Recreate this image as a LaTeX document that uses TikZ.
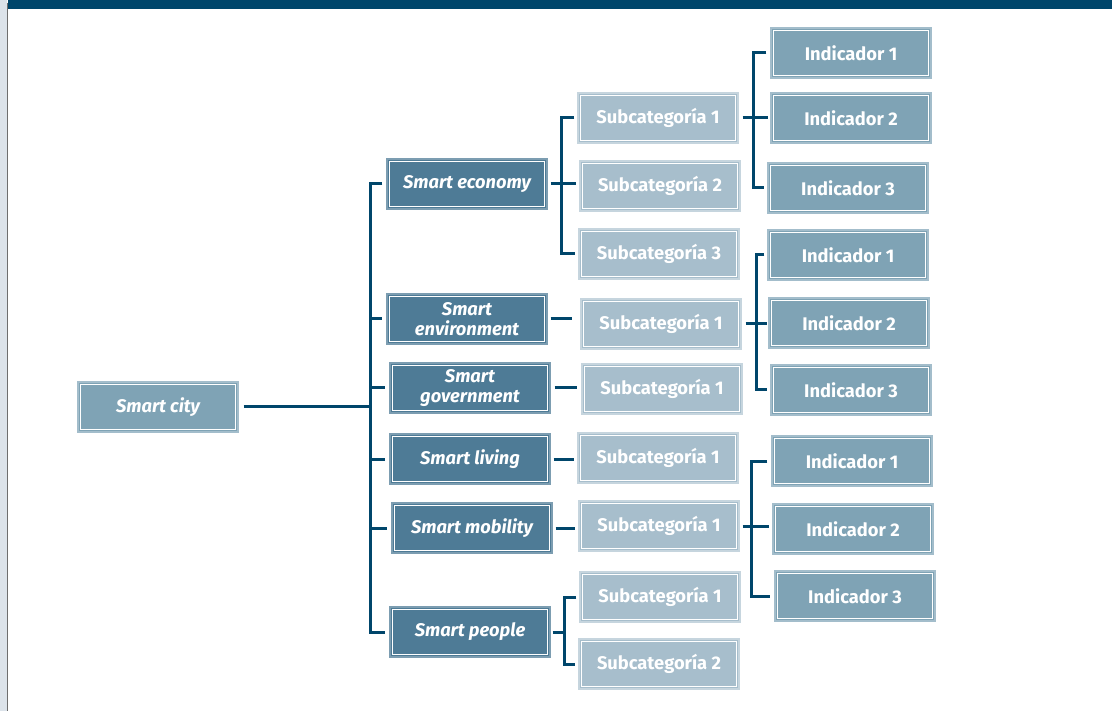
\documentclass[tikz,border=0pt]{standalone}
\usepackage{fontspec}
\setmainfont{Fira Sans}
\definecolor{navy}{HTML}{00466B}
\definecolor{midfill}{HTML}{7FA3B5}
\definecolor{midedge}{HTML}{A3BDCB}
\definecolor{darkfill}{HTML}{4E7B96}
\definecolor{darkedge}{HTML}{7C9DB1}
\definecolor{lightfill}{HTML}{A7BECC}
\definecolor{lightedge}{HTML}{C6D5DE}
\definecolor{stripc}{HTML}{DCE3EA}
\definecolor{greyline}{HTML}{6E6E6E}
\tikzset{
  box/.style={rectangle, minimum width=160pt, minimum height=50pt, inner sep=0pt,
    line width=1.2pt, text=white, font=\fontsize{18.3}{19.5}\selectfont\bfseries, align=center,
    path picture={\draw[white, line width=1pt]
      ([shift={(2.6pt,2.6pt)}]path picture bounding box.south west) rectangle
      ([shift={(-2.6pt,-2.6pt)}]path picture bounding box.north east);}},
  lvl0/.style={box, fill=midfill, draw=midedge, font=\fontsize{18.3}{19.5}\selectfont\bfseries\itshape},
  lvl1/.style={box, fill=darkfill, draw=darkedge, font=\fontsize{18.3}{19.5}\selectfont\bfseries\itshape},
  lvl2/.style={box, fill=lightfill, draw=lightedge},
  lvl3/.style={box, fill=midfill, draw=midedge},
  conn/.style={navy, line width=3pt, line join=miter},
}
\begin{document}
\begin{tikzpicture}[x=1pt, y=-1pt]
\useasboundingbox (0,0) rectangle (1112,711);
\fill[stripc] (0,0) rectangle (7,711);
\draw[greyline, line width=1.6pt] (7.6,3) -- (7.6,711);
\fill[navy] (8,0) rectangle (1112,9);

% level 0
\node[lvl0] (city) at (158,407) {Smart city};
% level 1
\node[lvl1] (econ) at (467,184) {Smart economy};
\node[lvl1] (env) at (467,319) {Smart\\environment};
\node[lvl1] (gov) at (470,388) {Smart\\government};
\node[lvl1] (liv) at (470,459) {Smart living};
\node[lvl1] (mob) at (472,528) {Smart mobility};
\node[lvl1] (peo) at (470,632) {Smart people};
% level 2
\node[lvl2] (es1) at (658,118) {Subcategoría 1};
\node[lvl2] (es2) at (660,186) {Subcategoría 2};
\node[lvl2] (es3) at (659,254) {Subcategoría 3};
\node[lvl2] (vs1) at (661,324) {Subcategoría 1};
\node[lvl2] (gs1) at (662,389) {Subcategoría 1};
\node[lvl2] (ls1) at (658,458) {Subcategoría 1};
\node[lvl2] (ms1) at (659,526) {Subcategoría 1};
\node[lvl2] (ps1) at (660,597) {Subcategoría 1};
\node[lvl2] (ps2) at (659,664) {Subcategoría 2};
% level 3
\node[lvl3] (ei1) at (851,53) {Indicador 1};
\node[lvl3] (ei2) at (851,118) {Indicador 2};
\node[lvl3] (ei3) at (848,188) {Indicador 3};
\node[lvl3] (vi1) at (848,255) {Indicador 1};
\node[lvl3] (vi2) at (849,323) {Indicador 2};
\node[lvl3] (vi3) at (851,390) {Indicador 3};
\node[lvl3] (mi1) at (852,461) {Indicador 1};
\node[lvl3] (mi2) at (853,529) {Indicador 2};
\node[lvl3] (mi3) at (855,596) {Indicador 3};

% buses
\coordinate (b1) at (370,407);
\coordinate (b2) at (561,184);
\coordinate (b3) at (753,118);
\coordinate (b4) at (756,323);
\coordinate (b5) at (751,529);
\coordinate (b6) at (564,632);

% city to level 1
\draw[conn, shorten <=5pt] (city.east) -- (city.east -| b1);
\draw[conn] ([xshift=-4pt]econ.west) -- (econ.west -| b1) -- (peo.west -| b1) -- ([xshift=-4pt]peo.west);
\foreach \n in {env,gov,liv,mob}
  \draw[conn] (\n.west -| b1) -- ([xshift=-4pt]\n.west);

% economy subcats
\draw[conn] ([xshift=3pt]econ.east) -- ([xshift=-3pt]econ.east -| es2.west);
\draw[conn] ([xshift=-3pt]es1.west) -- (es1.west -| b2) -- (es3.west -| b2) -- ([xshift=-3pt]es3.west);
% single subcats
\draw[conn] ([xshift=3pt]env.east) -- ([xshift=-8pt]env.east -| vs1.west);
\draw[conn] ([xshift=4pt]gov.east) -- ([xshift=-4pt]gov.east -| gs1.west);
\draw[conn] ([xshift=3pt]liv.east) -- ([xshift=-3pt]liv.east -| ls1.west);
\draw[conn] ([xshift=3pt]mob.east) -- ([xshift=-3pt]mob.east -| ms1.west);
% people subcats
\draw[conn] ([xshift=2pt]peo.east) -- (peo.east -| b6);
\draw[conn] ([xshift=-3pt]ps1.west) -- (ps1.west -| b6) -- (ps2.west -| b6) -- ([xshift=-3pt]ps2.west);

% indicators economy
\draw[conn] ([xshift=4pt]es1.east) -- ([xshift=-2pt]es1.east -| ei2.west);
\draw[conn] ([xshift=-4pt]ei1.west) -- (ei1.west -| b3) -- (ei3.west -| b3) -- ([xshift=-3pt]ei3.west);
% indicators environment
\draw[conn] ([xshift=4pt]vs1.east) -- ([xshift=-1pt]vs1.east -| vi2.west);
\draw[conn] ([xshift=-3pt]vi1.west) -- (vi1.west -| b4) -- (vi3.west -| b4) -- ([xshift=-3pt]vi3.west);
% indicators mobility
\draw[conn] ([xshift=3pt]ms1.east) -- ([xshift=-3pt]ms1.east -| mi2.west);
\draw[conn] ([xshift=-4pt]mi1.west) -- (mi1.west -| b5) -- (mi3.west -| b5) -- ([xshift=-4pt]mi3.west);
\end{tikzpicture}
\end{document}
